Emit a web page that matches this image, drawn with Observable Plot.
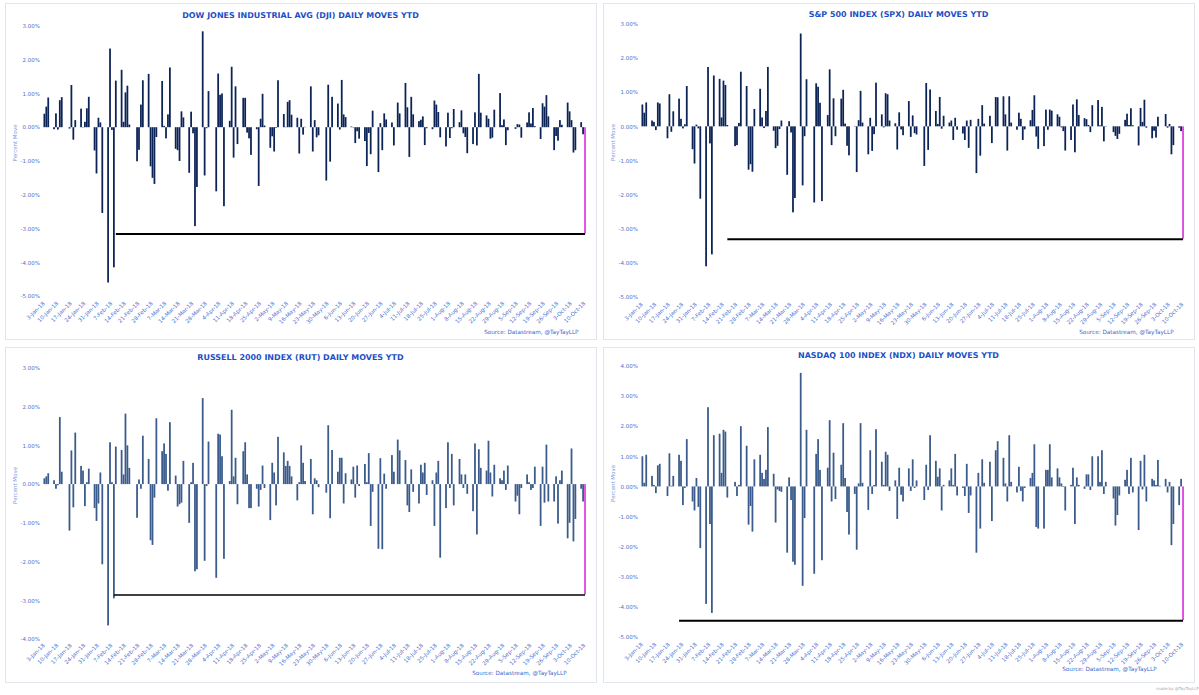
<!DOCTYPE html>
<html><head><meta charset="utf-8">
<script src="https://cdn.jsdelivr.net/npm/d3@7"></script>
<script src="https://cdn.jsdelivr.net/npm/@observablehq/plot@0.6"></script>
<style>
body{margin:0;background:#fff;width:1199px;height:695px;overflow:hidden;position:relative;font-family:"DejaVu Sans",sans-serif}
.panel{position:absolute;border:1px solid #e1e5ed;box-sizing:border-box;background:#fff}
.panel svg{position:absolute;left:-1px;top:-1px;overflow:visible}
#wm{position:absolute;left:1156px;top:686px;font-size:4px;color:#a8a8a8;white-space:nowrap}
</style></head><body>
<div id="wm">made by @TayTayLLP</div>
<script>
// trading-day calendar (first return 3-Jan-18, last 10-Oct-18)
const holidays = ["2018-01-15","2018-02-19","2018-03-30","2018-05-28","2018-07-04","2018-09-03"];
const tickLabels = ["3-Jan-18","10-Jan-18","17-Jan-18","24-Jan-18","31-Jan-18","7-Feb-18","14-Feb-18","21-Feb-18","28-Feb-18","7-Mar-18","14-Mar-18","21-Mar-18","28-Mar-18","4-Apr-18","11-Apr-18","18-Apr-18","25-Apr-18","2-May-18","9-May-18","16-May-18","23-May-18","30-May-18","6-Jun-18","13-Jun-18","20-Jun-18","27-Jun-18","4-Jul-18","11-Jul-18","18-Jul-18","25-Jul-18","1-Aug-18","8-Aug-18","15-Aug-18","22-Aug-18","29-Aug-18","5-Sep-18","12-Sep-18","19-Sep-18","26-Sep-18","3-Oct-18","10-Oct-18"];

const dji = [0.40,0.61,0.88,-0.06,0.41,-0.07,0.80,0.89,-0.04,1.25,-0.37,0.21,0.55,-0.01,0.16,0.56,0.90,-0.69,-1.37,0.28,
0.14,-2.54,-4.60,2.33,-0.08,-4.15,1.38,1.70,0.16,1.03,1.23,0.08,-1.01,-0.67,0.67,1.39,1.58,-1.16,-1.50,
-1.68,-0.29,1.37,0.04,-0.33,0.38,1.77,-0.64,-0.68,-1.00,0.47,0.29,-1.35,0.46,-0.18,-2.93,-1.77,2.84,-1.43,-0.03,1.07,
-1.90,1.59,0.96,1.00,-2.34,0.19,1.79,-0.90,1.21,-0.50,0.87,0.87,-0.16,-0.33,-0.82,-0.06,-1.74,0.25,0.99,0.05,-0.61,
-0.27,-0.72,-0.02,1.39,0.39,0.01,0.75,0.80,0.37,0.28,-0.78,0.25,-0.22,0.01,1.21,-0.72,0.21,-0.30,-0.24,-1.58,1.26,-1.02,
0.90,0.70,-0.07,1.40,0.38,0.30,0.02,-0.01,-0.47,-0.12,-0.34,-0.41,-1.15,-0.17,-0.80,0.49,-1.33,0.12,-0.68,0.41,0.23,
0.14,-0.54,0.73,0.41,1.31,0.59,-0.88,0.90,0.38,0.18,0.22,0.32,-0.53,-0.03,-0.06,0.79,0.67,0.45,-0.30,-0.57,0.43,
-0.32,-0.03,0.54,0.15,0.50,-0.18,-0.29,-0.77,-0.50,0.44,-0.54,1.58,0.43,0.35,0.25,-0.34,-0.31,0.52,1.01,0.06,0.23,-0.53,-0.09,
-0.05,0.09,0.08,-0.31,0.14,0.44,0.11,0.57,0.03,-0.35,0.71,0.61,0.95,0.32,-0.68,-0.26,-0.40,0.21,0.07,
0.73,0.47,0.21,-0.75,-0.68,0.15,-0.21,-3.15];

const spx = [0.64,0.40,0.70,0.17,0.13,-0.11,0.70,0.67,-0.35,0.94,-0.16,0.44,0.81,0.22,-0.06,0.06,1.18,-0.67,-1.09,0.05,
-0.06,-2.12,-4.10,1.74,-0.50,-3.75,1.49,1.39,0.26,1.34,1.21,0.04,-0.58,-0.55,0.10,1.60,1.18,-1.27,-1.11,
-1.33,0.51,1.10,0.26,-0.05,0.45,1.74,-0.13,-0.64,-0.57,-0.08,0.17,-1.42,0.15,-0.18,-2.52,-2.10,2.72,-1.73,-0.29,1.38,
-2.23,1.26,1.16,0.69,-2.19,0.33,1.67,-0.55,0.82,-0.29,0.81,1.07,0.08,-0.57,-0.85,0.01,-1.34,0.18,1.04,0.11,-0.82,
0.25,-0.72,-0.23,1.28,0.35,-0.03,0.97,0.94,0.17,0.09,-0.68,0.41,-0.09,-0.26,0.74,-0.31,0.32,-0.20,-0.24,-1.16,1.27,-0.69,
1.08,0.45,0.07,0.86,-0.07,0.31,0.11,0.17,-0.40,0.25,-0.10,-0.21,-0.40,0.17,-0.63,0.19,-1.37,0.22,-0.86,0.62,0.08,
0.31,-0.49,0.86,0.85,0.88,0.35,-0.71,0.88,0.11,-0.10,0.40,0.22,-0.40,-0.09,0.18,0.48,0.91,-0.30,-0.66,-0.58,0.49,
-0.10,0.49,0.46,0.35,0.28,-0.03,-0.14,-0.71,-0.40,0.64,-0.76,0.79,0.33,0.24,0.21,0.04,-0.17,0.62,0.77,0.03,0.57,-0.44,0.01,
-0.17,-0.28,-0.37,-0.22,0.19,0.37,0.04,0.53,0.03,-0.56,0.54,0.13,0.78,-0.04,-0.35,-0.13,-0.33,0.28,0.00,
0.36,-0.04,0.07,-0.82,-0.55,-0.04,-0.14,-3.29];

const rut = [0.15,0.20,0.28,0.10,-0.12,-0.03,1.73,0.32,-1.20,0.87,-0.60,1.33,0.47,0.35,-0.57,0.05,0.40,-0.62,-0.95,-0.50,
0.30,-2.07,-3.65,1.08,0.05,-2.95,0.97,0.88,0.25,1.82,1.00,0.42,-0.87,0.12,-0.12,1.25,0.65,-1.45,-1.57,
-0.35,1.70,0.85,1.05,0.78,-0.17,1.60,0.22,-0.58,-0.52,-0.48,0.60,-1.00,0.05,0.55,-2.25,-2.20,2.22,-1.98,-0.05,1.10,
-2.42,1.30,1.28,0.72,-1.93,0.08,1.92,0.20,0.68,-0.52,0.85,1.08,0.25,-0.62,-0.62,-0.12,-0.58,-0.15,0.48,-0.10,-0.93,
0.55,0.30,-0.55,1.22,0.82,0.47,0.60,0.47,0.20,-0.42,0.05,1.00,0.55,0.08,0.65,-0.78,0.15,0.10,-0.08,-0.22,1.52,-0.88,
0.88,0.32,0.68,0.68,-0.50,0.28,0.12,0.45,-0.35,0.48,-0.05,0.52,0.05,0.80,-1.08,-0.20,-1.67,0.67,-1.68,0.27,-0.12,
0.75,0.32,1.15,0.87,0.62,-0.55,-0.72,0.38,-0.20,-0.50,0.50,0.30,0.55,-0.28,0.10,-1.08,0.30,0.60,-1.90,-0.62,1.08,
-0.10,0.78,-0.55,0.65,0.25,-0.10,0.25,-0.25,-0.70,1.05,-1.30,0.90,0.42,0.35,1.12,0.30,-0.32,0.50,0.15,0.10,0.35,-0.15,0.48,
-0.45,-0.30,-0.78,-0.10,0.25,0.05,-0.15,-0.10,0.45,-1.08,0.45,-0.48,1.02,-0.45,-0.45,0.20,-1.02,0.10,0.35,
-1.40,-1.00,0.92,-1.48,-0.90,-0.12,-0.45,-2.85];

const ndx = [1.00,0.12,1.05,0.35,0.05,-0.22,0.70,0.75,-0.32,1.10,0.02,0.35,1.05,0.85,-0.62,-0.05,1.57,-0.50,-0.80,0.28,
-0.68,-2.05,-3.90,2.63,-1.25,-4.20,1.70,1.75,0.45,1.88,1.82,-0.37,0.15,-0.32,0.05,2.00,1.35,-1.27,-0.65,
-1.50,0.90,1.05,0.45,0.25,0.55,1.97,0.42,-1.20,-0.10,-0.15,-0.18,-2.20,0.30,-0.45,-2.50,-2.60,3.77,-3.30,-1.05,1.88,
-2.90,1.08,1.57,0.55,-2.45,0.62,2.20,-0.50,1.12,-0.42,0.72,2.10,0.28,-0.85,-1.60,-0.25,-2.10,0.10,2.10,0.12,-0.78,
1.20,-0.25,0.05,1.90,0.82,0.05,1.15,1.05,-0.15,0.20,-1.08,0.62,-0.28,-0.50,0.60,-0.15,0.90,-0.05,0.20,-0.45,0.72,-0.12,
1.70,0.85,0.32,0.60,-0.80,0.05,0.20,0.60,0.05,1.08,-0.30,-0.05,-0.32,0.75,-0.88,-0.30,-2.20,0.45,-1.40,0.90,0.12,
0.82,-1.15,1.20,1.50,0.95,0.10,-0.50,1.70,0.15,-0.20,0.65,-0.15,-0.50,-0.05,0.28,0.45,1.40,-1.35,-1.40,-1.40,0.55,
0.55,1.40,0.30,0.60,0.30,0.10,-0.02,-0.80,0.05,0.62,-1.25,0.30,0.05,-0.08,0.40,0.40,-0.12,1.00,1.00,0.15,1.20,-0.25,0.15,
-0.40,-1.30,-0.95,-0.30,0.22,0.55,-0.25,0.95,-0.20,-1.45,0.85,-0.10,1.05,-0.50,0.25,0.20,0.05,0.88,0.02,
0.25,-0.20,0.15,-1.95,-1.25,-0.62,0.25,-4.44];

const ticksDJI = [3,2,1,0,-1,-2,-3,-4,-5];
const ticksSPX = [3,2,1,0,-1,-2,-3,-4,-5];
const ticksRUT = [3,2,1,0,-1,-2,-3,-4];
const ticksNDX = [4,3,2,1,0,-1,-2,-3,-4,-5];

const fmtISO = d3.utcFormat("%Y-%m-%d");
const days = d3.utcDays(new Date("2018-01-03"), new Date("2018-10-11"))
  .filter(d => d.getUTCDay() % 6 !== 0 && !holidays.includes(fmtISO(d)));
const parseTick = d3.utcParse("%d-%b-%y");
const tickDates = tickLabels.map(s => ({date: parseTick(s), label: s}));
const H = 11 * 3600e3;

function panel(cfg) {
  const {left, top, w, h, mt, mb, ml, mr, yDomain, yTicks, values, barColor, title, titleY,
         lineStart, lineWidth, srcX, srcY, xlDy} = cfg;
  const data = days.map((d, i) => ({date: d, v: values[i], last: i === days.length - 1}));
  const last = values[values.length - 1];
  const tickColor = "#4b70cf";
  const frameCx = ml + (w - ml - mr) / 2;
  const chart = Plot.plot({
    width: w, height: h, marginTop: mt, marginBottom: mb, marginLeft: ml, marginRight: mr,
    x: {type: "utc", domain: [days[0], days[days.length - 1]], axis: null},
    y: {domain: yDomain, axis: null},
    style: {fontFamily: "DejaVu Sans, sans-serif", background: "transparent"},
    marks: [
      Plot.rect(data, {x1: d => new Date(+d.date - H), x2: d => new Date(+d.date + H), y1: 0, y2: "v",
        fill: d => d.last ? "#e03fe0" : barColor}),
      Plot.ruleY([last], {x1: parseTick(lineStart), x2: days[days.length - 1], stroke: "#000", strokeWidth: lineWidth}),
      Plot.text(yTicks, {frameAnchor: "left", y: d => d, text: d => d.toFixed(2) + "%", dx: -5,
        textAnchor: "end", fontSize: 5.5, fill: tickColor}),
      Plot.text(tickDates, {x: "date", y: yDomain[0], text: "label", rotate: -45, textAnchor: "end",
        dy: xlDy, dx: -1, fontSize: 5.5, fill: tickColor}),
      Plot.text(["Percent Move"], {frameAnchor: "left", text: d => d, dx: -(ml - 10), rotate: -90,
        fontSize: 5.5, fill: "#7b96dc"}),
      Plot.text([title], {frameAnchor: "top", text: d => d, lineAnchor: "middle", dy: titleY - mt,
        dx: w / 2 - frameCx, fontSize: 8, fontWeight: "bold", fill: "#1d4fc4"}),
      Plot.text(["Source: Datastream, @TayTayLLP"], {frameAnchor: "bottom-right", text: d => d,
        lineAnchor: "middle", textAnchor: "end", dx: srcX - (w - mr), dy: srcY - (h - mb),
        fontSize: 5.7, fill: "#3b67cc"})
    ]
  });
  const div = document.createElement("div");
  div.className = "panel";
  Object.assign(div.style, {left: left + "px", top: top + "px", width: w + "px", height: h + "px"});
  div.appendChild(chart);
  document.body.appendChild(div);
}

const navy = "#0c2356", steel = "#3a5b8b";
panel({left: 5, top: 3, w: 592, h: 337, mt: 23, mb: 43, ml: 39.5, mr: 10, yDomain: [-5, 3], yTicks: ticksDJI,
  values: dji, barColor: navy, title: "DOW JONES INDUSTRIAL AVG (DJI) DAILY MOVES YTD", titleY: 12,
  lineStart: "9-Feb-18", lineWidth: 2, srcX: 575, srcY: 330, xlDy: 6});
panel({left: 603, top: 3, w: 592, h: 337, mt: 21, mb: 42, ml: 39.5, mr: 10, yDomain: [-5, 3], yTicks: ticksSPX,
  values: spx, barColor: navy, title: "S&P 500 INDEX (SPX) DAILY MOVES YTD", titleY: 10.5,
  lineStart: "16-Feb-18", lineWidth: 2, srcX: 572, srcY: 330, xlDy: 6});
panel({left: 5, top: 347, w: 592, h: 336, mt: 21, mb: 43, ml: 39.5, mr: 10, yDomain: [-4, 3], yTicks: ticksRUT,
  values: rut, barColor: steel, title: "RUSSELL 2000 INDEX (RUT) DAILY MOVES YTD", titleY: 9.5,
  lineStart: "8-Feb-18", lineWidth: 1.5, srcX: 563, srcY: 327, xlDy: 5});
panel({left: 603, top: 347, w: 592, h: 336, mt: 19, mb: 45, ml: 39.5, mr: 10, yDomain: [-5, 4], yTicks: ticksNDX,
  values: ndx, barColor: steel, title: "NASDAQ 100 INDEX (NDX) DAILY MOVES YTD", titleY: 8,
  lineStart: "22-Jan-18", lineWidth: 2, srcX: 555, srcY: 323, xlDy: 6});
console.log(days.length, dji.length, spx.length, rut.length, ndx.length);
</script></body></html>
